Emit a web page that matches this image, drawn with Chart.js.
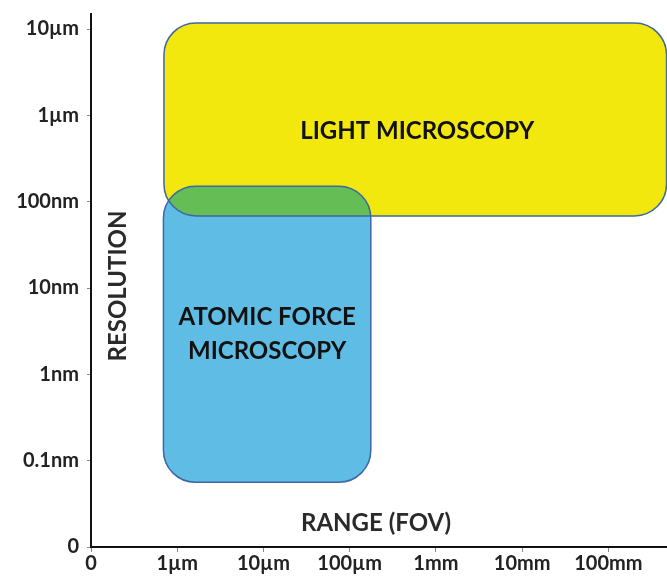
<!DOCTYPE html>
<html>
<head>
<meta charset="utf-8">
<script src="https://cdn.jsdelivr.net/npm/chart.js@4/dist/chart.umd.min.js"></script>
<style>
  html,body{margin:0;padding:0;background:#fff;}
  #wrap{width:667px;height:577px;}
</style>
</head>
<body>
<div id="wrap"><canvas id="c" width="667" height="577"></canvas></div>
<script>
// Tick labels (log decades shown as evenly spaced categories)
const xTickLabels = ['0', '1µm', '10µm', '100µm', '1mm', '10mm', '100mm'];
const yTickLabels = ['0', '0.1nm', '1nm', '10nm', '100nm', '1µm', '10µm'];

// Region names
const regionNames = ['LIGHT MICROSCOPY', 'ATOMIC FORCE\nMICROSCOPY'];
// Range (FOV) extents in decade units: [from, to]
const regionRange = [[0.846, 6.675], [0.84, 3.245]];
// Resolution extents in decade units: [from, to]
const regionResolution = [[3.835, 6.07], [0.75, 4.18]];

const xTitle = 'RANGE (FOV)';
const yTitle = 'RESOLUTION';

const fills = ['#F2E80E', '#5FBCE5'];
const overlapFill = '#64BD55';
const edgeColor = '#3E67A3';
const FONT = 'Lato, "Open Sans", sans-serif';

const datasets = regionNames.map((n, i) => ({
  label: n,
  data: [
    {x: regionRange[i][0], y: regionResolution[i][0]},
    {x: regionRange[i][1], y: regionResolution[i][1]}
  ],
  pointRadius: 0,
  showLine: false,
  backgroundColor: fills[i]
}));

function rrPath(ctx, x0, y0, x1, y1, r) {
  ctx.beginPath();
  ctx.moveTo(x0 + r, y0);
  ctx.lineTo(x1 - r, y0);
  ctx.arcTo(x1, y0, x1, y0 + r, r);
  ctx.lineTo(x1, y1 - r);
  ctx.arcTo(x1, y1, x1 - r, y1, r);
  ctx.lineTo(x0 + r, y1);
  ctx.arcTo(x0, y1, x0, y1 - r, r);
  ctx.lineTo(x0, y0 + r);
  ctx.arcTo(x0, y0, x0 + r, y0, r);
  ctx.closePath();
}

const regionsPlugin = {
  id: 'regions',
  beforeDatasetsDraw(chart) {
    const {ctx, scales: {x, y}} = chart;
    const boxes = chart.data.datasets.map(ds => {
      const a = ds.data[0], b = ds.data[1];
      return [x.getPixelForValue(a.x), y.getPixelForValue(b.y), x.getPixelForValue(b.x), y.getPixelForValue(a.y)];
    });
    const R = 32;
    ctx.save();
    boxes.forEach((bx, i) => {
      rrPath(ctx, bx[0], bx[1], bx[2], bx[3], R);
      ctx.fillStyle = chart.data.datasets[i].backgroundColor;
      ctx.fill();
    });
    // overlap
    ctx.save();
    rrPath(ctx, ...boxes[0], R);
    ctx.clip();
    rrPath(ctx, ...boxes[1], R);
    ctx.fillStyle = overlapFill;
    ctx.fill();
    ctx.restore();
    ctx.lineWidth = 1.5;
    ctx.strokeStyle = edgeColor;
    boxes.forEach(bx => { rrPath(ctx, bx[0], bx[1], bx[2], bx[3], R); ctx.stroke(); });

    // region labels
    ctx.fillStyle = '#111';
    ctx.textAlign = 'center';
    ctx.textBaseline = 'middle';
    ctx.font = 'bold 24px ' + FONT;
    const b0 = boxes[0];
    ctx.fillText(regionNames[0], (b0[0] + b0[2]) / 2 + 2, (b0[1] + b0[3]) / 2 + 12);
    const b1 = boxes[1];
    const lines = regionNames[1].split('\n');
    const cx = (b1[0] + b1[2]) / 2, cy = (b1[1] + b1[3]) / 2;
    lines.forEach((l, k) => ctx.fillText(l, cx, cy + (k - (lines.length - 1) / 2) * 34));

    // axis titles
    const ca = chart.chartArea;
    ctx.font = 'bold 24px ' + FONT;
    ctx.fillStyle = '#2a2a2a';
    ctx.fillText(xTitle, (ca.left + ca.right) / 2 - 3, ca.bottom - 24);
    ctx.save();
    ctx.translate(ca.left + 27.5, y.getPixelForValue(3) - 2);
    ctx.rotate(-Math.PI / 2);
    ctx.fillText(yTitle, 0, 0);
    ctx.restore();
    ctx.restore();
  }
};

new Chart(document.getElementById('c'), {
  type: 'scatter',
  data: {datasets},
  options: {
    responsive: false,
    animation: false,
    events: [],
    layout: {padding: {top: 14, right: 0, left: 0, bottom: 0}},
    plugins: {legend: {display: false}, tooltip: {enabled: false}},
    scales: {
      x: {
        type: 'linear', min: 0, max: 6.68,
        afterFit(s) { s.height = 30; s.paddingLeft = 0; s.paddingRight = 0; },
        border: {color: '#111', width: 2},
        grid: {drawOnChartArea: false, drawTicks: true, tickLength: 5, tickColor: '#888', tickWidth: 1},
        ticks: {
          stepSize: 1, includeBounds: false, autoSkip: false, maxRotation: 0, padding: 0,
          color: '#222', font: {family: FONT, size: 20, weight: 'bold'},
          callback: v => Number.isInteger(v) ? xTickLabels[v] : null
        }
      },
      y: {
        type: 'linear', min: 0, max: 6.174,
        afterFit(s) { s.width = 91; s.paddingTop = 0; s.paddingBottom = 0; },
        border: {color: '#111', width: 2},
        grid: {drawOnChartArea: false, drawTicks: true, tickLength: 4, tickColor: '#888', tickWidth: 1},
        ticks: {
          stepSize: 1, includeBounds: false, autoSkip: false, padding: 8,
          color: '#222', font: {family: FONT, size: 20, weight: 'bold'},
          callback: v => Number.isInteger(v) ? yTickLabels[v] : null
        }
      }
    }
  },
  plugins: [regionsPlugin]
});
</script>
</body>
</html>
